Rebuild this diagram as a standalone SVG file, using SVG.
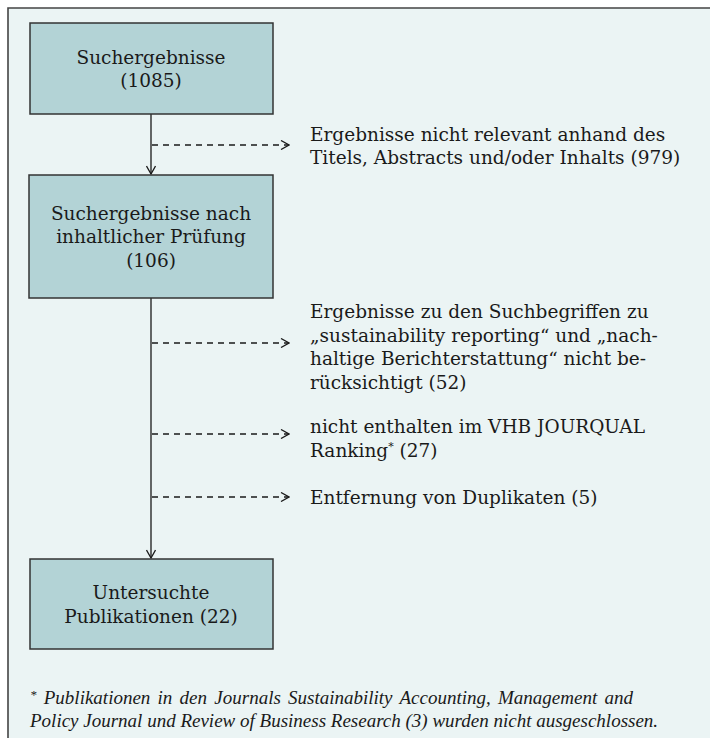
<svg xmlns="http://www.w3.org/2000/svg" width="710" height="738" viewBox="0 0 710 738">
<style>
.box{fill:#b3d3d6;stroke:#333;stroke-width:1.5}
.t{font-family:"DejaVu Serif",serif;font-size:18.5px;fill:#1a1a1a}
.c{text-anchor:middle}
.fn{font-family:"Liberation Serif",serif;font-size:19px;font-style:italic;fill:#1a1a1a}
.solid{stroke:#1a1a1a;stroke-width:1.3;fill:none}
.dash{stroke:#1a1a1a;stroke-width:1.3;fill:none;stroke-dasharray:6 5}
</style>
<defs>
<marker id="ah" viewBox="0 0 10 10" refX="9" refY="5" markerWidth="10" markerHeight="10" markerUnits="userSpaceOnUse" orient="auto">
<path d="M1,0.5 L9,5 L1,9.5" fill="none" stroke="#1a1a1a" stroke-width="1.3"/>
</marker>
</defs>
<rect x="0" y="0" width="710" height="738" fill="#ffffff"/>
<g id="frame">
<rect x="8" y="8" width="710" height="740" fill="#ebf4f4"/>
<path d="M8,740 L8,8 L712,8" fill="none" stroke="#444" stroke-width="1.6"/>
</g>
<g id="connectors">
<line class="solid" x1="151" y1="114" x2="151" y2="174" marker-end="url(#ah)"/>
<line class="solid" x1="151" y1="298" x2="151" y2="558" marker-end="url(#ah)"/>
<line class="dash" x1="152" y1="145" x2="289" y2="145" marker-end="url(#ah)"/>
<line class="dash" x1="152" y1="343" x2="289" y2="343" marker-end="url(#ah)"/>
<line class="dash" x1="152" y1="434" x2="289" y2="434" marker-end="url(#ah)"/>
<line class="dash" x1="152" y1="497" x2="289" y2="497" marker-end="url(#ah)"/>
</g>
<g id="n1">
<rect class="box" x="30" y="23" width="243" height="91"/>
<text class="t c" x="151" y="64">Suchergebnisse</text>
<text class="t c" x="151" y="87">(1085)</text>
</g>
<g id="n2">
<rect class="box" x="29" y="175" width="244" height="123"/>
<text class="t c" x="151" y="220">Suchergebnisse nach</text>
<text class="t c" x="151" y="243">inhaltlicher Prüfung</text>
<text class="t c" x="151" y="267">(106)</text>
</g>
<g id="n3">
<rect class="box" x="30" y="559" width="243" height="90"/>
<text class="t c" x="151" y="599">Untersuchte</text>
<text class="t c" x="151" y="623">Publikationen (22)</text>
</g>
<g id="e1">
<text class="t" x="310" y="141">Ergebnisse nicht relevant anhand des</text>
<text class="t" x="310" y="164">Titels, Abstracts und/oder Inhalts (979)</text>
</g>
<g id="e2">
<text class="t" x="310" y="318">Ergebnisse zu den Suchbegriffen zu</text>
<text class="t" x="310" y="342">„sustainability reporting“ und „nach-</text>
<text class="t" x="310" y="365">haltige Berichterstattung“ nicht be-</text>
<text class="t" x="310" y="389">rücksichtigt (52)</text>
</g>
<g id="e3">
<text class="t" x="310" y="433">nicht enthalten im VHB JOURQUAL</text>
<text class="t" x="310" y="457">Ranking<tspan font-size="11" dy="-7">*</tspan><tspan dy="7"> (27)</tspan></text>
</g>
<g id="e4">
<text class="t" x="310" y="504">Entfernung von Duplikaten (5)</text>
</g>
<g id="footnote">
<text class="fn" x="30" y="704" word-spacing="2.5"><tspan font-size="13" dy="-5">*</tspan><tspan dy="5"> Publikationen in den Journals Sustainability Accounting, Management and</tspan></text>
<text class="fn" x="30" y="727">Policy Journal und Review of Business Research (3) wurden nicht ausgeschlossen.</text>
</g>
</svg>
